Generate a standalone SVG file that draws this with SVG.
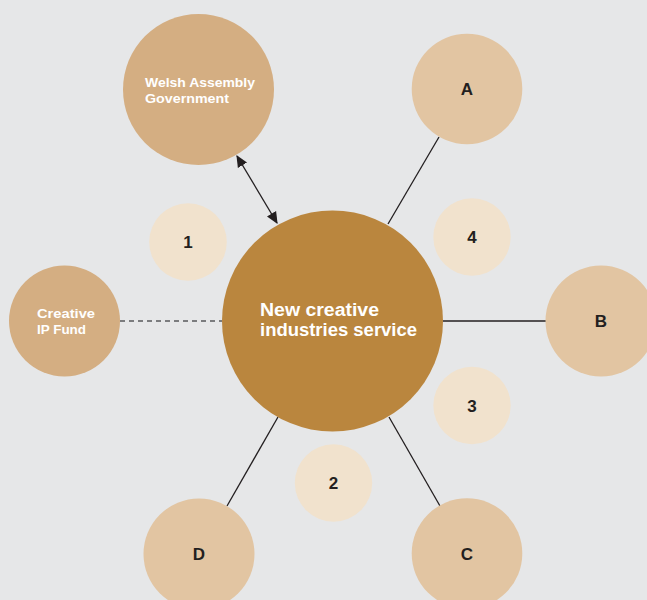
<svg xmlns="http://www.w3.org/2000/svg" width="647" height="600" viewBox="0 0 647 600">
  <defs>
    <marker id="arrow" viewBox="0 0 10 10" refX="9" refY="5" markerWidth="12" markerHeight="12" markerUnits="userSpaceOnUse" orient="auto-start-reverse">
      <path d="M0,0.5 L10,5 L0,9.5 z" fill="#231f20"/>
    </marker>
    <style>
      .partner { fill: #d4ae82; }
      .member { fill: #e2c5a2; }
      .step { fill: #f1e2cd; }
      .hub { fill: #ba863e; }
      .link { stroke: #231f20; stroke-width: 1.3; fill: none; }
      .dash { stroke: #58595b; stroke-width: 1.5; stroke-dasharray: 5 4; fill: none; }
      .light { font-family: "Liberation Sans", Arial, sans-serif; font-weight: bold; fill: #ffffff; }
      .dark { font-family: "Liberation Sans", Arial, sans-serif; font-weight: bold; fill: #231f20; font-size: 17px; text-anchor: middle; }
    </style>
  </defs>

  <rect width="647" height="600" fill="#e6e7e8"/>

  <!-- connectors -->
  <g id="connectors">
    <line class="link" x1="237" y1="156" x2="277" y2="223" marker-start="url(#arrow)" marker-end="url(#arrow)"/>
    <line class="dash" x1="120" y1="321" x2="222" y2="321"/>
    <line class="link" x1="439" y1="137" x2="388" y2="224"/>
    <line class="link" x1="443" y1="321" x2="546" y2="321"/>
    <line class="link" x1="389" y1="417" x2="440" y2="506"/>
    <line class="link" x1="278" y1="417" x2="227" y2="506"/>
  </g>

  <!-- outer partners -->
  <g id="welsh-assembly">
    <circle class="partner" cx="198.5" cy="89.5" r="75.5"/>
    <text class="light" font-size="13" x="145" y="87" textLength="110" lengthAdjust="spacingAndGlyphs">Welsh Assembly</text>
    <text class="light" font-size="13" x="145" y="103" textLength="84" lengthAdjust="spacingAndGlyphs">Government</text>
  </g>
  <g id="creative-ip-fund">
    <circle class="partner" cx="64.5" cy="321" r="55.5"/>
    <text class="light" font-size="13" x="37" y="318" textLength="58" lengthAdjust="spacingAndGlyphs">Creative</text>
    <text class="light" font-size="13" x="37" y="334" textLength="49" lengthAdjust="spacingAndGlyphs">IP Fund</text>
  </g>

  <!-- central service -->
  <g id="service">
    <circle class="hub" cx="332.5" cy="321" r="110.5"/>
    <text class="light" font-size="17.5" x="260" y="316" textLength="119" lengthAdjust="spacingAndGlyphs">New creative</text>
    <text class="light" font-size="17.5" x="260" y="336" textLength="157" lengthAdjust="spacingAndGlyphs">industries service</text>
  </g>

  <!-- member nodes -->
  <g id="node-a">
    <circle class="member" cx="467" cy="89" r="55.3"/>
    <text class="dark" x="467" y="95">A</text>
  </g>
  <g id="node-b">
    <circle class="member" cx="601" cy="321" r="55.5"/>
    <text class="dark" x="601" y="327">B</text>
  </g>
  <g id="node-c">
    <circle class="member" cx="467" cy="553.5" r="55.3"/>
    <text class="dark" x="467" y="559.5">C</text>
  </g>
  <g id="node-d">
    <circle class="member" cx="199" cy="554" r="55.5"/>
    <text class="dark" x="199" y="560">D</text>
  </g>

  <!-- numbered steps -->
  <g id="step-1">
    <circle class="step" cx="188" cy="242" r="38.8"/>
    <text class="dark" x="188" y="248">1</text>
  </g>
  <g id="step-2">
    <circle class="step" cx="333.5" cy="483" r="38.7"/>
    <text class="dark" x="333.5" y="489">2</text>
  </g>
  <g id="step-3">
    <circle class="step" cx="472" cy="405.5" r="38.7"/>
    <text class="dark" x="472" y="411.5">3</text>
  </g>
  <g id="step-4">
    <circle class="step" cx="472" cy="237" r="38.7"/>
    <text class="dark" x="472" y="243">4</text>
  </g>
</svg>
